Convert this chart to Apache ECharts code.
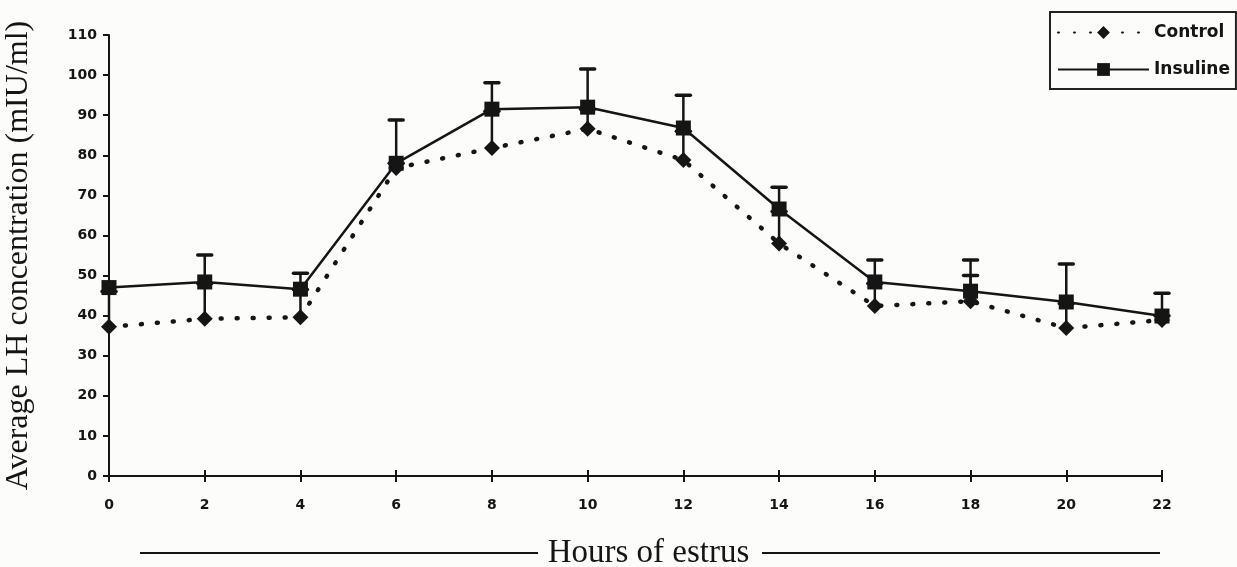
<!DOCTYPE html>
<html>
<head>
<meta charset="utf-8">
<script src="https://cdn.jsdelivr.net/npm/echarts@6/dist/echarts.min.js"></script>
<style>
html,body{margin:0;padding:0;background:#fcfcfa;}
#c{width:1237px;height:567px;}
</style>
</head>
<body>
<div id="c"></div>
<script>
const hours = [0, 2, 4, 6, 8, 10, 12, 14, 16, 18, 20, 22];
const controlMean = [37.2, 39.2, 39.6, 76.8, 81.8, 86.6, 78.8, 58.0, 42.4, 43.6, 36.9, 38.9];
const controlErrTop = [46, 48, 46.5, 78, 91, 91.5, 86, 66, 48, 50, 43, 40];
const insulinMean = [47.0, 48.4, 46.6, 78.0, 91.5, 92.0, 86.8, 66.6, 48.4, 46.1, 43.4, 39.9];
const insulinErrTop = [47.0, 55.1, 50.6, 88.8, 98.1, 101.5, 95.0, 72.0, 53.9, 53.9, 52.9, 45.6];
const yTicks = [0, 110, 10];
const xTicks = [0, 22, 2];

const ink = '#151515';
const chart = echarts.init(document.getElementById('c'));

function errItem(params, api) {
  const x = api.value(0), lo = api.value(1), hi = api.value(2);
  const p1 = api.coord([x, lo]), p2 = api.coord([x, hi]);
  if (hi <= lo) return null;
  return {
    type: 'group',
    children: [
      {type: 'line', shape: {x1: p1[0], y1: p1[1], x2: p2[0], y2: p2[1]}, style: {stroke: ink, lineWidth: 2.5}},
      {type: 'line', shape: {x1: p2[0] - 7, y1: p2[1], x2: p2[0] + 7, y2: p2[1]}, style: {stroke: ink, lineWidth: 3.5, lineCap: 'round'}}
    ]
  };
}

const axisFont = {fontFamily: 'DejaVu Sans', fontWeight: 'bold', fontSize: 14, color: ink};

chart.setOption({
  backgroundColor: '#fcfcfa',
  animation: false,
  grid: {left: 109, right: 75, top: 35, bottom: 91, outerBoundsMode: 'none', containLabel: false},
  legend: {
    orient: 'vertical',
    left: 1050,
    top: 12,
    itemWidth: 91,
    itemHeight: 16,
    itemGap: 20,
    padding: [12, 6, 11, 7],
    borderColor: '#222',
    borderWidth: 2,
    textStyle: {fontFamily: 'DejaVu Sans', fontWeight: 'bold', fontSize: 17, color: ink},
    data: ['Control', 'Insuline']
  },
  xAxis: [{
    type: 'value',
    min: xTicks[0], max: xTicks[1], interval: xTicks[2],
    axisLine: {lineStyle: {color: ink, width: 2}},
    axisTick: {length: 6, lineStyle: {color: ink, width: 2}},
    axisLabel: Object.assign({margin: 22}, axisFont),
    splitLine: {show: false},
    name: 'Hours of estrus',
    nameLocation: 'middle',
    nameGap: 61,
    nameTextStyle: {fontFamily: 'Liberation Serif', fontSize: 33, color: ink, padding: [0, 0, 0, 26]}
  }, {
    type: 'value',
    position: 'top',
    offset: -441,
    min: xTicks[0], max: xTicks[1], interval: xTicks[2],
    axisLine: {show: false},
    axisTick: {length: 6, lineStyle: {color: ink, width: 2}},
    axisLabel: {show: false},
    splitLine: {show: false}
  }],
  yAxis: {
    type: 'value',
    min: yTicks[0], max: yTicks[1], interval: yTicks[2],
    axisLine: {show: true, lineStyle: {color: ink, width: 2}},
    axisTick: {show: true, length: 6, lineStyle: {color: ink, width: 2}},
    axisLabel: Object.assign({margin: 12}, axisFont),
    splitLine: {show: false},
    name: 'Average LH concentration (mIU/ml)',
    nameLocation: 'middle',
    nameGap: 74,
    nameTextStyle: {fontFamily: 'Liberation Serif', fontSize: 32, color: ink}
  },
  graphic: [
    {type: 'line', shape: {x1: 140, y1: 553, x2: 538, y2: 553}, style: {stroke: ink, lineWidth: 2}},
    {type: 'line', shape: {x1: 762, y1: 553, x2: 1160, y2: 553}, style: {stroke: ink, lineWidth: 2}}
  ],
  series: [
    {
      name: 'ctrlErr', type: 'custom', z: 1, renderItem: errItem,
      data: hours.map((h, i) => [h, controlMean[i], controlErrTop[i]])
    },
    {
      name: 'Control', type: 'line', z: 2,
      data: hours.map((h, i) => [h, controlMean[i]]),
      symbol: 'diamond', symbolSize: 16,
      itemStyle: {color: ink},
      lineStyle: {color: ink, width: 4.5, type: [1, 15], cap: 'round'}
    },
    {
      name: 'insErr', type: 'custom', z: 3, renderItem: errItem,
      data: hours.map((h, i) => [h, insulinMean[i], insulinErrTop[i]])
    },
    {
      name: 'Insuline', type: 'line', z: 4,
      data: hours.map((h, i) => [h, insulinMean[i]]),
      symbol: 'rect', symbolSize: 15,
      itemStyle: {color: ink},
      lineStyle: {color: ink, width: 2.5}
    }
  ]
});
</script>
</body>
</html>
